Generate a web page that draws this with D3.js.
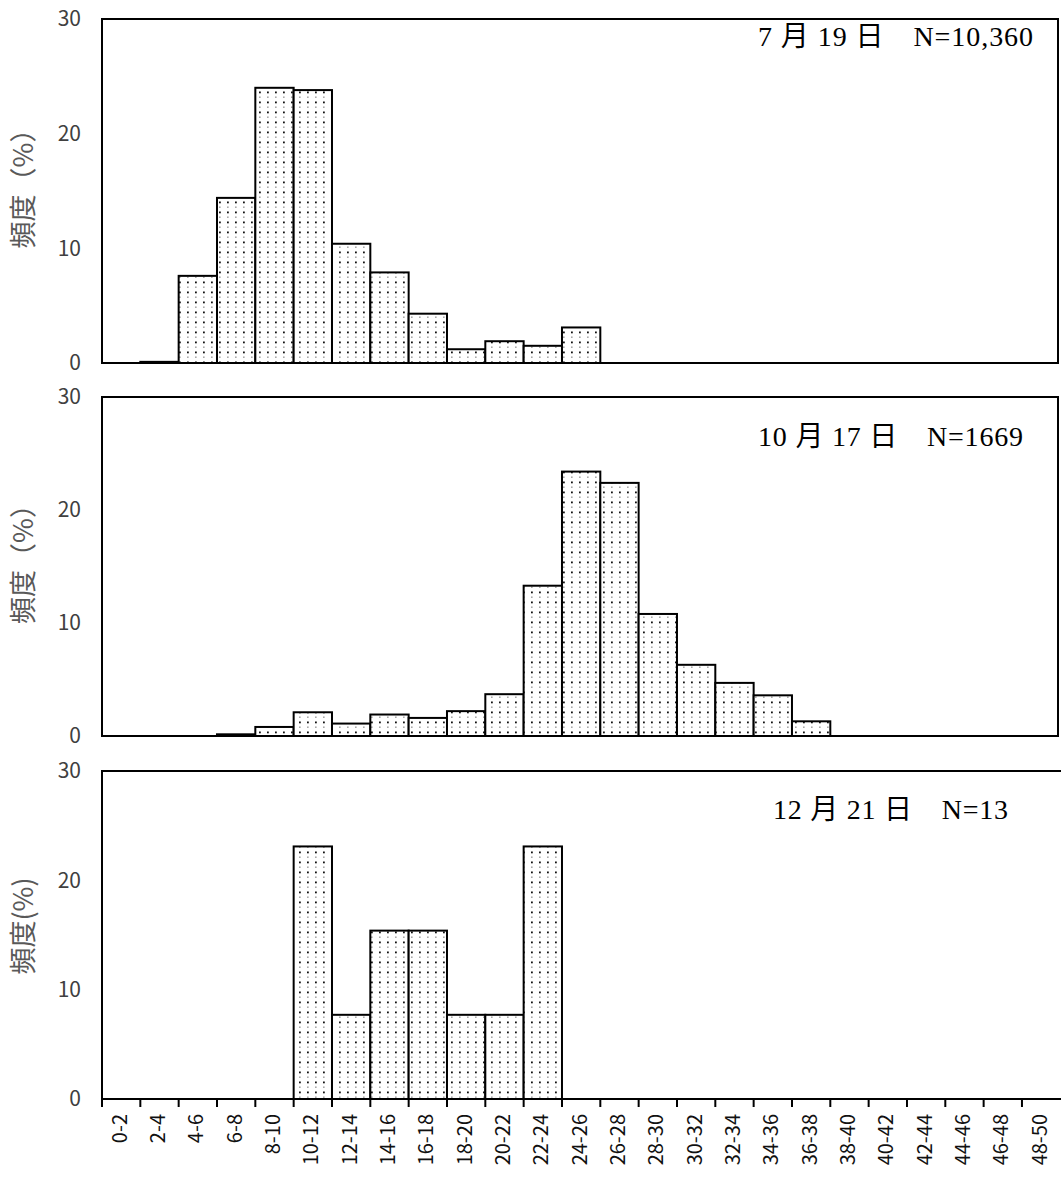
<!DOCTYPE html>
<html lang='ja'>
<head>
<meta charset='utf-8'/>
<title>頻度分布</title>
<script src='https://d3js.org/d3.v7.min.js'></script>
<style>
  body { margin: 0; background: #fff; }
  .tick text { font-family: 'Noto Sans CJK JP', 'Noto Sans', sans-serif; }
</style>
</head>
<body>
<script>
'use strict'
// size classes (mm)
const classes = ['0-2','2-4','4-6','6-8','8-10','10-12','12-14','14-16','16-18','18-20',
  '20-22','22-24','24-26','26-28','28-30','30-32','32-34','34-36','36-38','38-40',
  '40-42','42-44','44-46','46-48','48-50']

// percent per class, one list per survey date
const jul19 = [0, 0.1, 7.6, 14.4, 24.0, 23.8, 10.4, 7.9, 4.3, 1.2, 1.9, 1.5, 3.1,
  0, 0, 0, 0, 0, 0, 0, 0, 0, 0, 0, 0]
const oct17 = [0, 0, 0, 0.15, 0.8, 2.1, 1.1, 1.9, 1.6, 2.2, 3.7, 13.3, 23.4,
  22.4, 10.8, 6.3, 4.7, 3.6, 1.3, 0, 0, 0, 0, 0, 0]
const dec21 = [0, 0, 0, 0, 0, 23.1, 7.7, 15.4, 15.4, 7.7, 7.7, 23.1, 0,
  0, 0, 0, 0, 0, 0, 0, 0, 0, 0, 0, 0]

const labels = ['7 月 19 日\u3000N=10,360', '10 月 17 日\u3000N=1669', '12 月 21 日\u3000N=13']
const yTitles = ['頻度（%）', '頻度（%）', '頻度(%)']
const yTicks = [0, 10, 20, 30]

const W = 1061, H = 1177
const left = 102, plotRight = 1060.3, frameRight = 1058

const panels = [
  {data: jul19, top: 19, bottom: 363, lx: 758, ly: 46, lw: 275, box: true},
  {data: oct17, top: 397, bottom: 736, lx: 758, ly: 446, lw: 265, box: true},
  {data: dec21, top: 771, bottom: 1099, lx: 773, ly: 819, lw: 235, box: false}
]

const svg = d3.select('body').append('svg')
  .attr('width', W)
  .attr('height', H)

svg.append('rect').attr('width', W).attr('height', H).attr('fill', '#fff')

// dotted screen fill like the original
const pat = svg.append('defs').append('pattern')
  .attr('id', 'dots')
  .attr('patternUnits', 'userSpaceOnUse')
  .attr('width', 8).attr('height', 10)
pat.append('rect').attr('width', 8).attr('height', 10).attr('fill', '#fff')
pat.append('rect').attr('x', 3).attr('y', 1.5).attr('width', 1.8).attr('height', 1.8).attr('fill', '#111')
pat.append('rect').attr('x', 3.2).attr('y', 6.6).attr('width', 1.3).attr('height', 1.1).attr('fill', '#666')

const x = d3.scaleBand()
  .domain(classes)
  .range([left, plotRight])
  .paddingInner(0)
  .paddingOuter(0)

panels.forEach(function(p, i)
{
  const y = d3.scaleLinear().domain([0, 30]).range([p.bottom, p.top])
  const g = svg.append('g')

  // bars
  g.selectAll('rect.bar')
    .data(classes.map(function(c, k) { return {c: c, v: p.data[k]} }).filter(function(d) { return d.v > 0 }))
    .join('rect')
    .attr('class', 'bar')
    .attr('x', function(d) { return x(d.c) })
    .attr('y', function(d) { return y(d.v) })
    .attr('width', x.bandwidth())
    .attr('height', function(d) { return y(0) - y(d.v) })
    .attr('fill', 'url(#dots)')
    .attr('stroke', '#000')
    .attr('stroke-width', 2)

  // frame
  if (p.box)
  {
    g.append('rect')
      .attr('x', left).attr('y', p.top)
      .attr('width', frameRight - left).attr('height', p.bottom - p.top)
      .attr('fill', 'none').attr('stroke', '#000').attr('stroke-width', 2)
  }
  else
  {
    g.append('path')
      .attr('d', 'M' + W + ',' + p.top + 'H' + left + 'V' + p.bottom + 'H' + W)
      .attr('fill', 'none').attr('stroke', '#000').attr('stroke-width', 2)
  }

  // y axis labels
  const ax = g.append('g')
    .attr('transform', 'translate(' + left + ',0)')
    .call(d3.axisLeft(y).tickValues(yTicks).tickSize(0).tickPadding(21))
  ax.select('.domain').remove()
  ax.selectAll('text').attr('font-size', 21).attr('fill', '#404040')

  // y title
  g.append('text')
    .attr('transform', 'translate(26,' + ((p.top + p.bottom) / 2 - 9) + ') rotate(-90)')
    .attr('text-anchor', 'middle')
    .attr('dominant-baseline', 'middle')
    .attr('font-family', "'Noto Sans CJK JP', sans-serif")
    .attr('font-size', 27)
    .attr('fill', '#595959')
    .text(yTitles[i])

  // date / sample size
  g.append('text')
    .attr('x', p.lx).attr('y', p.ly)
    .attr('font-family', "'Liberation Serif', 'Noto Sans CJK JP', serif")
    .attr('font-size', 28)
    .attr('textLength', p.lw)
    .attr('lengthAdjust', 'spacing')
    .attr('fill', '#000')
    .text(labels[i])

  // bottom panel: ticks at class boundaries and class labels
  if (i === panels.length - 1)
  {
    g.selectAll('line.tk')
      .data(classes)
      .join('line')
      .attr('class', 'tk')
      .attr('x1', function(d) { return x(d) })
      .attr('x2', function(d) { return x(d) })
      .attr('y1', p.bottom)
      .attr('y2', p.bottom + 8)
      .attr('stroke', '#000')
      .attr('stroke-width', 2)

    g.selectAll('text.cl')
      .data(classes)
      .join('text')
      .attr('class', 'cl')
      .attr('transform', function(d) { return 'translate(' + (x(d) + x.bandwidth() / 2) + ',' + (p.bottom + 15) + ') rotate(-90)' })
      .attr('text-anchor', 'end')
      .attr('dominant-baseline', 'middle')
      .attr('font-family', "'Noto Sans CJK JP', 'Noto Sans', sans-serif")
      .attr('font-size', 20)
      .attr('fill', '#111')
      .text(function(d) { return d })
  }
})
</script>
</body>
</html>
